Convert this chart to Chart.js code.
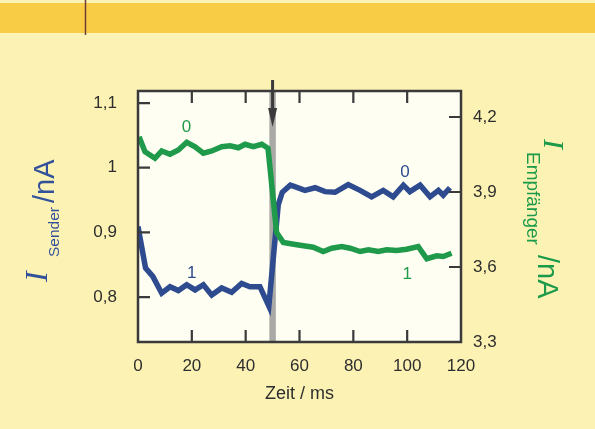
<!DOCTYPE html>
<html><head><meta charset="utf-8">
<script src="https://cdn.jsdelivr.net/npm/chart.js@4"></script>
<style>html,body{margin:0;padding:0;background:#fcf2b4;}#wrap{width:595px;height:429px;position:relative}</style>
</head><body><div id="wrap"><canvas id="c" width="595" height="429"></canvas></div>
<script>
// ---- data ----
const senderTimes  = [0, 2.8, 5.5, 8.8, 11.9, 15.0, 18.1, 21.2, 24.3, 27.4, 31.1, 34.8, 38.5, 41.6, 45.3, 48.6, 52.1, 53.6, 56.6, 58.0, 62.0, 65.8, 69.5, 73.2, 78.1, 82.5, 86.8, 91.1, 94.8, 98.6, 101.0, 104.8, 108.5, 111.6, 113.4, 115.9];
const senderValues = [0.909, 0.845, 0.832, 0.806, 0.816, 0.810, 0.819, 0.811, 0.819, 0.803, 0.814, 0.8075, 0.821, 0.816, 0.816, 0.786, 0.9425, 0.962, 0.973, 0.971, 0.965, 0.969, 0.963, 0.962, 0.974, 0.965, 0.955, 0.965, 0.955, 0.973, 0.963, 0.973, 0.955, 0.965, 0.9575, 0.969];
const receiverTimes  = [0.4, 2.6, 6.3, 8.8, 11.9, 15.0, 18.1, 21.2, 24.3, 27.4, 31.1, 34.2, 37.3, 39.8, 42.8, 46.0, 48.3, 51.5, 54.0, 59.0, 65.1, 68.8, 72.0, 75.7, 78.8, 82.5, 85.6, 89.3, 92.4, 96.1, 99.8, 104.1, 107.3, 111.0, 113.4, 116.5];
const receiverValues = [4.121, 4.061, 4.035, 4.064, 4.051, 4.068, 4.099, 4.081, 4.055, 4.064, 4.081, 4.085, 4.077, 4.091, 4.081, 4.091, 4.075, 3.738, 3.698, 3.689, 3.679, 3.662, 3.675, 3.682, 3.675, 3.662, 3.669, 3.662, 3.669, 3.666, 3.671, 3.682, 3.633, 3.645, 3.642, 3.655];
const xTicks = [0, 20, 40, 60, 80, 100, 120];
const xTickLabels = ['0', '20', '40', '60', '80', '100', '120'];
const leftTicks = [0.8, 0.9, 1.0, 1.1];
const leftTickLabels = ['0,8', '0,9', '1', '1,1'];
const rightTicks = [3.3, 3.6, 3.9, 4.2];
const rightTickLabels = ['3,3', '3,6', '3,9', '4,2'];
const markerTime = 50;
const seriesTags = [
  {text: '0', x: 18, y: 4.16, axis: 'y1', color: '#1f9a4b'},
  {text: '1', x: 20, y: 0.8374, axis: 'y', color: '#2d4b8e'},
  {text: '0', x: 99.2, y: 0.9935, axis: 'y', color: '#2d4b8e'},
  {text: '1', x: 100, y: 3.572, axis: 'y1', color: '#1f9a4b'}
];

const BLUE = '#2d4b8e', GREEN = '#1f9a4b', TXT = '#2e2e2e', FRAME = '#3a3a3a';
const sans = '"Liberation Sans", Arial, sans-serif';

const decor = {
  id: 'decor',
  beforeDraw(chart) {
    const ctx = chart.ctx, a = chart.chartArea;
    ctx.save();
    ctx.fillStyle = '#fcf2b4'; ctx.fillRect(0, 0, chart.width, chart.height);
    ctx.fillStyle = '#f8cd45'; ctx.fillRect(0, 3, chart.width, 30);
    ctx.strokeStyle = '#6e3a3a'; ctx.lineWidth = 1.5;
    ctx.beginPath(); ctx.moveTo(85.5, 0); ctx.lineTo(85.5, 35); ctx.stroke();
    ctx.fillStyle = '#fffef3'; ctx.fillRect(a.left, a.top, a.right - a.left, a.bottom - a.top);
    const xs = chart.scales.x;
    const x0 = xs.getPixelForValue(markerTime - 1.2), x1 = xs.getPixelForValue(markerTime + 1.2);
    ctx.fillStyle = '#a9a9a5'; ctx.fillRect(x0, a.top, x1 - x0, a.bottom - a.top);
    ctx.restore();
  },
  afterDatasetsDraw(chart) {
    const ctx = chart.ctx, a = chart.chartArea;
    const xs = chart.scales.x, yl = chart.scales.y, yr = chart.scales.y1;
    ctx.save();
    ctx.strokeStyle = FRAME; ctx.lineWidth = 2.5;
    ctx.strokeRect(a.left, a.top, a.right - a.left, a.bottom - a.top);
    const L = 12;
    ctx.lineWidth = 2.2;
    ctx.beginPath();
    xs.ticks.forEach(t => {
      if (t.value <= xs.min || t.value >= xs.max) return;
      const p = xs.getPixelForValue(t.value);
      ctx.moveTo(p, a.bottom); ctx.lineTo(p, a.bottom - L);
      ctx.moveTo(p, a.top); ctx.lineTo(p, a.top + L);
    });
    yl.ticks.forEach(t => {
      const p = yl.getPixelForValue(t.value);
      ctx.moveTo(a.left, p); ctx.lineTo(a.left + L, p);
    });
    yr.ticks.forEach(t => {
      if (t.value <= yr.min) return;
      const p = yr.getPixelForValue(t.value);
      ctx.moveTo(a.right, p); ctx.lineTo(a.right - L, p);
    });
    ctx.stroke();
    const mx = xs.getPixelForValue(markerTime);
    ctx.fillStyle = '#3b3b3b';
    ctx.fillRect(mx - 1.5, 80, 3, 30);
    ctx.beginPath(); ctx.moveTo(mx - 4.5, 108); ctx.lineTo(mx + 4.5, 108); ctx.lineTo(mx, 127); ctx.closePath(); ctx.fill();
    ctx.font = '17px ' + sans; ctx.textAlign = 'center'; ctx.textBaseline = 'middle';
    seriesTags.forEach(s => {
      ctx.fillStyle = s.color;
      ctx.fillText(s.text, xs.getPixelForValue(s.x), chart.scales[s.axis].getPixelForValue(s.y));
    });
    ctx.restore();
  },
  afterDraw(chart) {
    const ctx = chart.ctx;
    ctx.save();
    ctx.textAlign = 'left'; ctx.textBaseline = 'alphabetic';
    ctx.translate(54, 282); ctx.rotate(-Math.PI / 2);
    ctx.fillStyle = '#33509a';
    ctx.font = 'italic 32px "Liberation Serif", serif'; ctx.fillText('I', 0, -7);
    ctx.font = '15.5px ' + sans; ctx.fillText('Sender', 25, 5);
    ctx.font = '29px ' + sans; ctx.fillText('/nA', 79, 0);
    ctx.restore();
    ctx.save();
    ctx.textAlign = 'left'; ctx.textBaseline = 'alphabetic';
    ctx.translate(538, 139); ctx.rotate(Math.PI / 2);
    ctx.fillStyle = '#1b9a4a';
    ctx.font = 'italic 30px "Liberation Serif", serif'; ctx.fillText('I', 0, -6);
    ctx.font = '19px ' + sans; ctx.fillText('Empfänger', 13, 11);
    ctx.font = '29px ' + sans; ctx.fillText('/nA', 116, 0);
    ctx.restore();
  }
};

const tickFont = {family: sans, size: 17};
new Chart(document.getElementById('c'), {
  type: 'line',
  data: {
    datasets: [
      {label: 'Empfänger', data: receiverTimes.map((t, i) => ({x: t, y: receiverValues[i]})), yAxisID: 'y1',
       borderColor: GREEN, borderWidth: 5.5, pointRadius: 0, tension: 0, fill: false, borderJoinStyle: 'miter'},
      {label: 'Sender', data: senderTimes.map((t, i) => ({x: t, y: senderValues[i]})), yAxisID: 'y',
       borderColor: BLUE, borderWidth: 5.5, pointRadius: 0, tension: 0, fill: false, borderJoinStyle: 'miter'}
    ]
  },
  options: {
    responsive: false, animation: false, devicePixelRatio: 1,
    layout: {padding: {top: 91, bottom: 24, left: 0, right: 0}},
    plugins: {legend: {display: false}, tooltip: {enabled: false}},
    scales: {
      x: {
        type: 'linear', position: 'bottom', min: 0, max: 120,
        afterBuildTicks: s => { s.ticks = xTicks.map(v => ({value: v})); },
        afterFit: s => { s.height = 63; },
        ticks: {callback: (v, i) => xTickLabels[i], font: tickFont, color: TXT, padding: 14, maxRotation: 0, autoSkip: false},
        grid: {display: false, drawTicks: false}, border: {display: false},
        title: {display: true, text: 'Zeit / ms', font: {family: sans, size: 18}, color: TXT, padding: 0}
      },
      y: {
        type: 'linear', position: 'left', min: 0.7305, max: 1.1186,
        afterBuildTicks: s => { s.ticks = leftTicks.map(v => ({value: v})); },
        afterFit: s => { s.width = 138; },
        ticks: {callback: (v, i) => leftTickLabels[i], font: tickFont, color: TXT, padding: 21, autoSkip: false},
        grid: {display: false, drawTicks: false}, border: {display: false}
      },
      y1: {
        type: 'linear', position: 'right', min: 3.3, max: 4.304,
        afterBuildTicks: s => { s.ticks = rightTicks.map(v => ({value: v})); },
        afterFit: s => { s.width = 134; },
        ticks: {callback: (v, i) => rightTickLabels[i], font: tickFont, color: TXT, padding: 12, autoSkip: false},
        grid: {display: false, drawTicks: false}, border: {display: false}
      }
    }
  },
  plugins: [decor]
});
</script></body></html>
